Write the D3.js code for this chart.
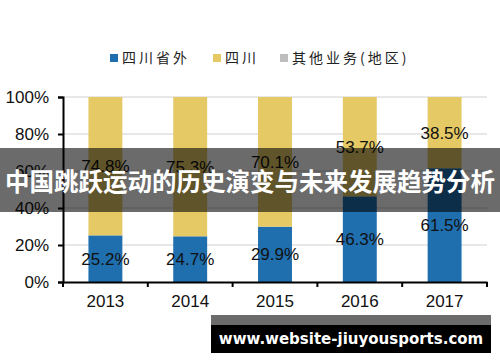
<!DOCTYPE html>
<html>
<head>
<meta charset="utf-8">
<script src="https://cdn.jsdelivr.net/npm/d3@7"></script>
<style>
  body { margin: 0; background: #fff; }
  svg { display: block; }
</style>
</head>
<body>
<svg id="chart" width="500" height="362"></svg>
<script>
const years = ["2013", "2014", "2015", "2016", "2017"];
const outside = [25.2, 24.7, 29.9, 46.3, 61.5];   // 四川省外
const sichuan = [74.8, 75.3, 70.1, 53.7, 38.5];   // 四川
const other = [0, 0, 0, 0, 0];                    // 其他业务(地区)
const seriesNames = ["四川省外", "四川", "其他业务(地区)"];
const yTicks = [0, 20, 40, 60, 80, 100];
const titleText = "中国跳跃运动的历史演变与未来发展趋势分析";
const watermark = "www.website-jiuyousports.com";

const colorMap = { "四川省外": "#1f6eae", "四川": "#e4c964", "其他业务(地区)": "#bdbdbd" };

const margin = { left: 63, right: 13, top: 97, bottom: 80 };
const svg = d3.select("#chart");
const width = 500 - margin.left - margin.right;
const height = 362 - margin.top - margin.bottom;
const g = svg.append("g").attr("transform", `translate(${margin.left},${margin.top})`);

const xScale = d3.scaleBand().domain(years).range([0, width]).paddingInner(0.6).paddingOuter(0.3);
const yScale = d3.scaleLinear().domain([0, 100]).range([height, 0]);

const rows = years.map((y, i) => ({ year: y, "四川省外": outside[i], "四川": sichuan[i], "其他业务(地区)": other[i] }));
const series = d3.stack().keys(seriesNames)(rows);

// grid lines
g.selectAll(".grid")
  .data(yTicks.filter((t) => t > 0))
  .join("line")
  .attr("class", "grid")
  .attr("x1", 0)
  .attr("x2", width)
  .attr("y1", (d) => yScale(d))
  .attr("y2", (d) => yScale(d))
  .attr("stroke", "#d0d0d0")
  .attr("stroke-width", 1);

// bars
g.selectAll(".layer")
  .data(series)
  .join("g")
  .attr("class", "layer")
  .attr("fill", (d) => colorMap[d.key])
  .selectAll("rect")
  .data((d) => d)
  .join("rect")
  .attr("x", (d) => xScale(d.data.year))
  .attr("width", xScale.bandwidth())
  .attr("y", (d) => yScale(d[1]))
  .attr("height", (d) => yScale(d[0]) - yScale(d[1]));

// value labels
series.slice(0, 2).forEach((layer) => {
  g.selectAll(`.lbl-${layer.index}`)
    .data(layer)
    .join("text")
    .attr("class", `lbl-${layer.index}`)
    .attr("x", (d) => xScale(d.data.year) + xScale.bandwidth() / 2)
    .attr("y", (d) => yScale((d[0] + d[1]) / 2))
    .attr("dy", "0.36em")
    .attr("text-anchor", "middle")
    .attr("font-family", "Liberation Sans, Arial, sans-serif")
    .attr("font-size", 17)
    .attr("fill", "#111")
    .text((d) => (d[1] - d[0]).toFixed(1) + "%");
});

// axes
const xAxis = d3.axisBottom(xScale).tickSize(0).tickPadding(13);
const xg = g.append("g").attr("transform", `translate(0,${height})`).call(xAxis);
xg.select(".domain").attr("stroke", "#000").attr("stroke-width", 2);
xg.selectAll("text").attr("font-family", "Liberation Sans, Arial, sans-serif").attr("font-size", 17).attr("fill", "#111");

// x boundary ticks
g.selectAll(".xtick")
  .data(d3.range(years.length + 1))
  .join("line")
  .attr("class", "xtick")
  .attr("x1", (i) => i * xScale.step())
  .attr("x2", (i) => i * xScale.step())
  .attr("y1", height)
  .attr("y2", height + 5)
  .attr("stroke", "#000")
  .attr("stroke-width", 2);

const yAxis = d3.axisLeft(yScale).tickValues(yTicks).tickFormat((d) => d + "%").tickSize(5).tickPadding(9);
const yg = g.append("g").call(yAxis);
yg.select(".domain").attr("stroke", "#000").attr("stroke-width", 2);
yg.selectAll(".tick line").attr("stroke", "#000").attr("stroke-width", 2);
yg.selectAll("text").attr("font-family", "Liberation Sans, Arial, sans-serif").attr("font-size", 17).attr("fill", "#111");

// legend
const legendX = [110, 213, 280];
const legend = svg.selectAll(".legend")
  .data(seriesNames)
  .join("g")
  .attr("class", "legend")
  .attr("transform", (d, i) => `translate(${legendX[i]},58)`);
legend.append("rect").attr("x", 0).attr("y", -4).attr("width", 8).attr("height", 8).attr("fill", (d) => colorMap[d]);
legend.append("text")
  .attr("x", 12)
  .attr("dy", "0.36em")
  .attr("font-family", "Noto Sans CJK SC, sans-serif")
  .attr("font-size", 14)
  .attr("letter-spacing", 3)
  .attr("fill", "#222")
  .text((d) => d);

// title band overlay
svg.append("rect").attr("x", 0).attr("y", 148).attr("width", 500).attr("height", 64).attr("fill", "rgba(0,0,0,0.58)");
svg.append("text")
  .attr("x", 250)
  .attr("y", 182)
  .attr("dy", "0.36em")
  .attr("text-anchor", "middle")
  .attr("font-family", "Noto Sans CJK SC, sans-serif")
  .attr("font-weight", "bold")
  .attr("font-size", 24.5)
  .attr("fill", "#fff")
  .text(titleText);

// watermark
svg.append("rect").attr("x", 211).attr("y", 315).attr("width", 280).attr("height", 10).attr("fill", "#6b6b6b");
svg.append("rect").attr("x", 211).attr("y", 325).attr("width", 280).attr("height", 28).attr("fill", "#000");
svg.append("text")
  .attr("x", 351)
  .attr("y", 339)
  .attr("dy", "0.36em")
  .attr("text-anchor", "middle")
  .attr("font-family", "DejaVu Sans, sans-serif")
  .attr("font-weight", "bold")
  .attr("font-size", 15)
  .attr("fill", "#fff")
  .text(watermark);
</script>
</body>
</html>
